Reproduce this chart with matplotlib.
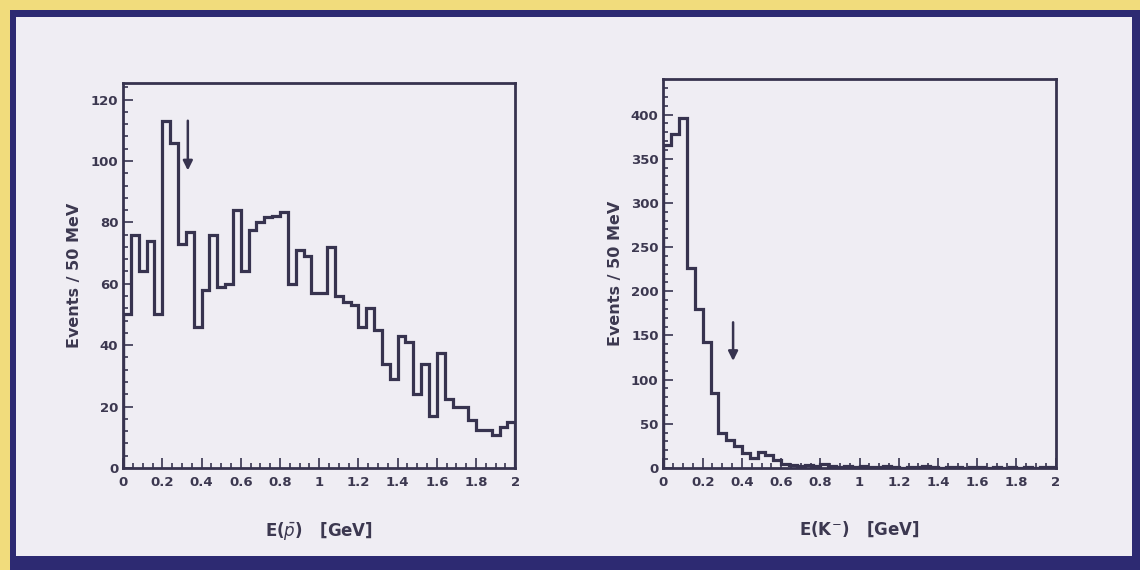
import matplotlib.pyplot as plt
import matplotlib.patches as patches
import numpy as np

# histogram contents, 50 bins from 0 to 2 GeV
binEdges = np.linspace(0, 2, 51)

pbarCounts = [50, 76, 64, 74, 50, 113, 106, 73, 77, 46,
              58, 76, 59, 60, 84, 64, 77.5, 80, 81.7, 82,
              83.4, 60, 71, 69, 57, 57, 72, 56, 54, 53,
              46, 52, 45, 34, 29, 43, 41, 24, 34, 17,
              37.5, 22.5, 20, 20, 15.6, 12.4, 12.4, 10.7, 13.4, 15]

kaonCounts = [365, 378, 396, 226, 180, 143, 85, 40, 32, 25,
              17, 11, 18, 15, 9, 4, 3, 2, 3, 2,
              4, 2, 1, 2, 1, 2, 1, 1, 2, 1,
              0, 1, 1, 2, 1, 0, 1, 1, 0, 1,
              1, 0, 1, 0, 1, 0, 1, 0, 1, 1]

# cut positions (arrow x, arrow top, arrow tip)
pbarCut = (0.33, 114, 96)
kaonCut = (0.355, 168, 118)

xTicks = [0, 0.2, 0.4, 0.6, 0.8, 1, 1.2, 1.4, 1.6, 1.8, 2]
xTickLabels = ['0', '0.2', '0.4', '0.6', '0.8', '1', '1.2', '1.4', '1.6', '1.8', '2']
pbarYTicks = [0, 20, 40, 60, 80, 100, 120]
kaonYTicks = [0, 50, 100, 150, 200, 250, 300, 350, 400]

lineColor = '#37334f'
textColor = '#3c3850'
bgColor = '#efedf3'


def drawHist(ax, counts, yTicks, yMax, yMinor, cut, xLabel):
    ax.set_facecolor(bgColor)
    ax.stairs(counts, binEdges, color=lineColor, linewidth=2.3, baseline=0)
    ax.plot([0, 0], [0, counts[0]], color=lineColor, linewidth=2.3)
    ax.annotate('', xy=(cut[0], cut[2]), xytext=(cut[0], cut[1]),
                arrowprops=dict(arrowstyle='-|>', color=lineColor, lw=1.8,
                                mutation_scale=14))
    ax.set_xlim(0, 2)
    ax.set_ylim(0, yMax)
    ax.set_xticks(xTicks)
    ax.set_xticklabels(xTickLabels)
    ax.set_xticks(np.arange(0, 2.001, 0.05), minor=True)
    ax.set_yticks(yTicks)
    ax.set_yticks(np.arange(0, yMax, yMinor), minor=True)
    ax.tick_params(which='both', direction='in', color=lineColor, width=1.2,
                   labelsize=9.5, labelcolor=textColor, top=False, right=False)
    ax.tick_params(which='major', length=7)
    ax.tick_params(which='minor', length=3.5)
    ax.tick_params(axis='x', pad=6)
    for label in ax.get_xticklabels() + ax.get_yticklabels():
        label.set_fontweight('bold')
    for spine in ax.spines.values():
        spine.set_color(lineColor)
        spine.set_linewidth(2.0)
    ax.set_ylabel('Events / 50 MeV', fontsize=11.5, fontweight='bold',
                  color=textColor, labelpad=6)
    ax.set_xlabel(xLabel, fontsize=12, fontweight='bold', color=textColor,
                  labelpad=22)


fig = plt.figure(figsize=(11.4, 5.7), dpi=100)
fig.patch.set_facecolor('#f1dc7c')
fig.patches.append(patches.Rectangle((0.009, 0.0), 0.991, 0.982,
                                     transform=fig.transFigure,
                                     facecolor='#2d2a72', edgecolor='none', zorder=-3))
fig.patches.append(patches.Rectangle((0.014, 0.024), 0.979, 0.947,
                                     transform=fig.transFigure,
                                     facecolor=bgColor, edgecolor='none', zorder=-2))

ax1 = fig.add_axes([0.108, 0.179, 0.344, 0.676])
ax2 = fig.add_axes([0.582, 0.179, 0.344, 0.682])

drawHist(ax1, pbarCounts, pbarYTicks, 125.5, 4, pbarCut,
         r'E($\bar{p}$)   [GeV]')
drawHist(ax2, kaonCounts, kaonYTicks, 440, 10, kaonCut,
         r'E(K$^{-}$)   [GeV]')

fig.savefig('out.png', dpi=100, facecolor=fig.get_facecolor())
